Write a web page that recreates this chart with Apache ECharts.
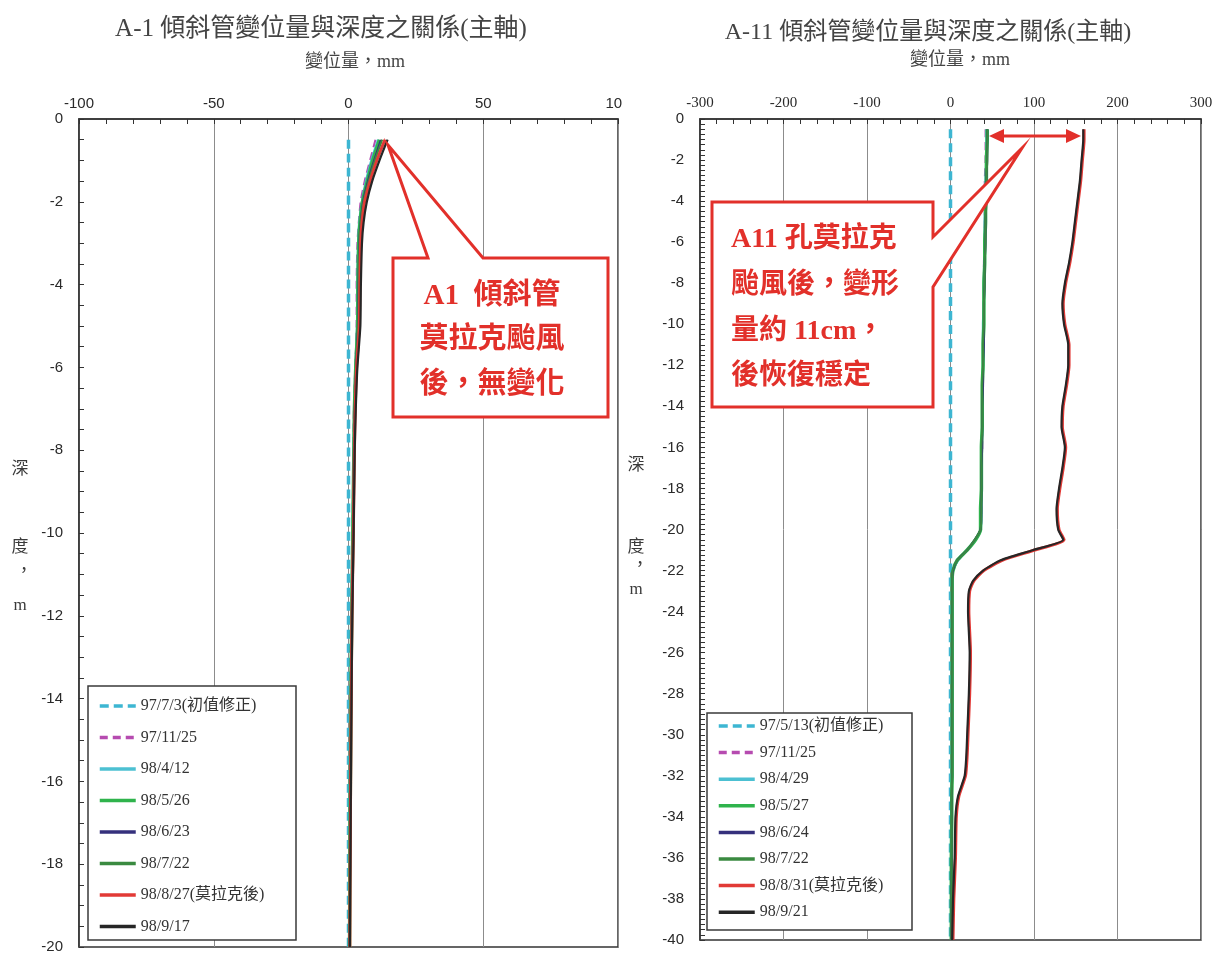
<!DOCTYPE html>
<html>
<head>
<meta charset="utf-8">
<script src="https://cdn.jsdelivr.net/npm/echarts@6/dist/echarts.min.js"></script>
<style>
html,body{margin:0;padding:0;background:#fff;}
#chart{width:1227px;height:957px;}
</style>
</head>
<body>
<div id="chart"></div>
<script>
// ---- A-1 inclinometer (depth in m, displacement in mm) ----
const a1Names = ['97/7/3(初值修正)', '97/11/25', '98/4/12', '98/5/26', '98/6/23', '98/7/22', '98/8/27(莫拉克後)', '98/9/17'];
const a1InitDepth = [-0.5, -20];
const a1InitDisp = [0, 0];
const a1Depth = [-0.5, -1, -1.5, -2, -2.5, -3, -4, -5, -6, -7, -8, -10, -12, -14, -16, -18, -20];
const a1_971125 = [10, 8, 6, 4.5, 3.8, 3.3, 3, 3, 2.5, 2, 1.8, 1.5, 1, 0.8, 0.6, 0.5, 0.3];
const a1_980412 = [11, 8.5, 6.5, 5, 4, 3.6, 3.3, 3.2, 2.6, 2.2, 1.9, 1.6, 1.1, 0.9, 0.7, 0.5, 0.4];
const a1_980526 = [11.5, 9, 7, 5.2, 4.3, 3.8, 3.5, 3.4, 2.7, 2.2, 2, 1.6, 1.2, 0.9, 0.7, 0.5, 0.4];
const a1_980623 = [12, 9.5, 7.2, 5.4, 4.5, 4, 3.7, 3.5, 2.8, 2.3, 2, 1.7, 1.2, 1, 0.7, 0.6, 0.4];
const a1_980722 = [12.5, 9.8, 7.5, 5.6, 4.6, 4.1, 3.8, 3.6, 2.9, 2.4, 2.1, 1.7, 1.3, 1, 0.8, 0.6, 0.4];
const a1_980827 = [13.5, 10.5, 8, 6, 5, 4.5, 4.2, 4, 3, 2.5, 2.2, 1.8, 1.3, 1, 0.8, 0.6, 0.5];
const a1_980917 = [14.5, 11.5, 8.8, 6.8, 5.6, 5, 4.6, 4.4, 3.3, 2.7, 2.3, 1.9, 1.4, 1.1, 0.9, 0.7, 0.5];

// ---- A-11 inclinometer ----
const a11Names = ['97/5/13(初值修正)', '97/11/25', '98/4/29', '98/5/27', '98/6/24', '98/7/22', '98/8/31(莫拉克後)', '98/9/21'];
const a11InitDepth = [-0.5, -40];
const a11InitDisp = [0, 0];
const a11Depth = [-0.5, -1, -2, -3, -4, -5, -6, -7, -8, -9,
  -10, -11, -12, -13, -14, -15, -16, -17, -18, -19, -20,
  -20.5, -21, -21.5, -22, -22.5, -23,
  -24, -25, -26, -28, -30, -31, -32, -33, -34, -36, -38, -40];
const a11_971125 = [42, 42, 42, 41, 41, 41, 41, 40, 40, 40,
  40, 39, 39, 39, 38, 38, 38, 37, 37, 37, 36,
  30, 20, 9, 3, 2, 1.5,
  1.5, 1.5, 1.5, 1.5, 1.5, 1.5, 1.5, 1, 1, 1, 0.5, 0.5];
const a11_980429 = [43, 43, 43, 42, 42, 41, 41, 41, 40, 40,
  39, 39, 39, 38, 38, 38, 37, 37, 37, 37, 36,
  30, 20, 9, 3, 2, 2,
  2, 2, 2, 2, 2, 2, 1.5, 1.5, 1.5, 1, 1, 1];
const a11_980527 = [44, 44, 43, 43, 42, 42, 41, 41, 40, 40,
  40, 39, 39, 38, 38, 38, 37, 37, 37, 36, 36,
  30, 20, 8, 3, 2, 2,
  2, 2, 2, 2, 2, 2, 2, 1.5, 1.5, 1, 1, 1];
const a11_980624 = [44, 44, 44, 43, 43, 42, 42, 41, 41, 40,
  40, 40, 39, 39, 38, 38, 38, 37, 37, 37, 36,
  29, 20, 8, 3, 2, 2,
  2, 2, 2, 2, 2, 2, 2, 1.5, 1.5, 1.5, 1, 1];
const a11_980722 = [44, 44, 44, 43, 43, 42, 42, 41, 41, 40,
  40, 39, 39, 38, 38, 38, 37, 37, 37, 37, 36,
  29, 20, 8, 2.5, 2, 2,
  2, 2, 2, 2, 2, 2, 2, 1.5, 1.5, 1.5, 1, 1];
const a11_980831 = [160, 160, 158, 156, 153, 150, 147, 143, 138, 135,
  137, 142, 142, 139, 135, 134, 138, 135, 131, 128, 130,
  136, 101, 62, 40, 28, 23,
  22, 23, 24, 23, 21, 20, 18, 10, 7, 6, 4, 3];
const a11_980921 = [159, 159, 157, 155, 152, 149, 146, 142, 137, 134,
  136, 141, 141, 138, 134, 133, 137, 134, 130, 127, 129,
  135, 99, 60, 39, 27, 22,
  21, 22, 23, 22, 20, 19, 17, 9, 6, 5, 3, 2];

// axis ticks
const a1XTicks = { min: -100, max: 100, interval: 50 };
const a1YTicks = { min: -20, max: 0, interval: 2 };
const a11XTicks = { min: -300, max: 300, interval: 100 };
const a11YTicks = { min: -40, max: 0, interval: 2 };

// line styles per survey date
const styles = [
  { color: '#3db6d2', width: 3.5, type: [9, 5] },
  { color: '#b64bb0', width: 2, type: [8, 5] },
  { color: '#4cc0d2', width: 2.5, type: 'solid' },
  { color: '#2fb34c', width: 3.5, type: 'solid' },
  { color: '#35307c', width: 2, type: 'solid' },
  { color: '#3a8a40', width: 2, type: 'solid' },
  { color: '#e23a36', width: 3, type: 'solid' },
  { color: '#262626', width: 2.2, type: 'solid' }
];

function pairs(xs, ys) { return xs.map((v, i) => [v, ys[i]]); }

function mkSeries(name, st, disp, depth, idx) {
  return {
    type: 'line', name: name, xAxisIndex: idx, yAxisIndex: idx,
    data: pairs(disp, depth), symbol: 'none', showSymbol: false,
    smooth: 0.2, silent: true, animation: false,
    lineStyle: { color: st.color, width: st.width, type: st.type },
    itemStyle: { color: st.color }
  };
}

const a1Values = [a1InitDisp, a1_971125, a1_980412, a1_980526, a1_980623, a1_980722, a1_980827, a1_980917];
const a11Values = [a11InitDisp, a11_971125, a11_980429, a11_980527, a11_980624, a11_980722, a11_980831, a11_980921];

const series = [];
a1Values.forEach((v, i) => series.push(mkSeries(a1Names[i], styles[i], v, i === 0 ? a1InitDepth : a1Depth, 0)));
a11Values.forEach((v, i) => series.push(mkSeries(a11Names[i], styles[i], v, i === 0 ? a11InitDepth : a11Depth, 1)));

const sansFont = "'Liberation Sans', Arial, sans-serif";
const serifFont = "'Liberation Serif', 'Noto Sans CJK TC', serif";
const cjkFont = "'Liberation Serif', 'Noto Sans CJK TC', sans-serif";
const red = '#e2302a';

function xAxisCfg(t, font, size, gi) {
  return {
    type: 'value', gridIndex: gi, position: 'top', min: t.min, max: t.max, interval: t.interval,
    axisLine: { show: true, onZero: false, lineStyle: { color: '#333', width: 1.5 } },
    axisTick: { show: true, inside: true, length: 5, lineStyle: { color: '#333' } },
    minorTick: { show: true, splitNumber: 5, length: 5, lineStyle: { color: '#333' } },
    splitLine: { show: true, lineStyle: { color: '#8c8c8c', width: 1 } },
    axisLabel: { show: true, margin: 8, fontFamily: font, fontSize: size, color: '#2a2a2a', showMinLabel: true, showMaxLabel: true }
  };
}
function yAxisCfg(t, minorSplit, gi) {
  return {
    type: 'value', gridIndex: gi, position: 'left', min: t.min, max: t.max, interval: t.interval,
    axisLine: { show: true, onZero: false, lineStyle: { color: '#333', width: 1.5 } },
    axisTick: { show: true, inside: true, length: 5, lineStyle: { color: '#333' } },
    minorTick: { show: true, splitNumber: minorSplit, length: 5, lineStyle: { color: '#333' } },
    splitLine: { show: false },
    axisLabel: { show: true, margin: 16, fontFamily: sansFont, fontSize: 15, color: '#2a2a2a' }
  };
}

function txt(text, x, y, size, opts) {
  opts = opts || {};
  return {
    type: 'text', x: x, y: y, z: opts.z || 60, silent: true,
    style: {
      text: text, fill: opts.fill || '#3a3a3a',
      fontSize: size, fontFamily: opts.family || cjkFont, fontWeight: opts.weight || 'normal',
      textAlign: opts.align || 'center', align: opts.align || 'center',
      textVerticalAlign: 'middle', verticalAlign: 'middle'
    }
  };
}

const graphic = [
  // chart titles and axis names
  txt('A-1 傾斜管變位量與深度之關係(主軸)', 321, 29, 25, { fill: '#444' }),
  txt('A-11 傾斜管變位量與深度之關係(主軸)', 928, 33, 24, { fill: '#444' }),
  txt('變位量，mm', 355, 62, 18, { fill: '#444' }),
  txt('變位量，mm', 960, 60, 18, { fill: '#444' }),
  txt('深', 20, 470, 17), txt('度', 20, 548, 17), txt('，', 24, 572, 17), txt('m', 20, 606, 17),
  txt('深', 636, 466, 17), txt('度', 636, 548, 17), txt('，', 640, 566, 17), txt('m', 636, 590, 17),
  // label edge trimmed by the panel boundary
  { type: 'rect', z: 70, silent: true, shape: { x: 622, y: 84, width: 14, height: 28 }, style: { fill: '#fff' } },
  // legend frames
  { type: 'rect', z: 3, silent: true, shape: { x: 88, y: 686, width: 208, height: 254 }, style: { fill: '#fff', stroke: '#3a3a3a', lineWidth: 1.5 } },
  { type: 'rect', z: 3, silent: true, shape: { x: 707, y: 713, width: 205, height: 217 }, style: { fill: '#fff', stroke: '#3a3a3a', lineWidth: 1.5 } },
  // A1 callout
  { type: 'polygon', z: 50, silent: true,
    shape: { points: [[393, 258], [428, 258], [388, 145], [483, 258], [608, 258], [608, 417], [393, 417]] },
    style: { fill: '#fff', stroke: red, lineWidth: 3 } },
  txt('A1  傾斜管', 492, 297, 29, { fill: red, weight: 'bold' }),
  txt('莫拉克颱風', 492, 341, 29, { fill: red, weight: 'bold' }),
  txt('後，無變化', 492, 386, 29, { fill: red, weight: 'bold' }),
  // A11 callout
  { type: 'polygon', z: 50, silent: true,
    shape: { points: [[712, 202], [933, 202], [933, 237], [1022, 148], [933, 287], [933, 407], [712, 407]] },
    style: { fill: '#fff', stroke: red, lineWidth: 3 } },
  txt('A11 孔莫拉克', 731, 240, 28, { fill: red, weight: 'bold', align: 'left' }),
  txt('颱風後，變形', 731, 286, 28, { fill: red, weight: 'bold', align: 'left' }),
  txt('量約 11cm，', 731, 332, 28, { fill: red, weight: 'bold', align: 'left' }),
  txt('後恢復穩定', 731, 377, 28, { fill: red, weight: 'bold', align: 'left' }),
  // double-headed arrow showing the shift
  { type: 'line', z: 55, silent: true, shape: { x1: 1000, y1: 136, x2: 1070, y2: 136 }, style: { stroke: red, lineWidth: 3 } },
  { type: 'polygon', z: 55, silent: true, shape: { points: [[989, 136], [1004, 129], [1004, 143]] }, style: { fill: red } },
  { type: 'polygon', z: 55, silent: true, shape: { points: [[1081, 136], [1066, 129], [1066, 143]] }, style: { fill: red } }
];

const legendText = { fontFamily: serifFont, fontSize: 16, color: '#333' };
const legendSymbol = { opacity: 0, borderWidth: 0 };
const legendLine = { width: 3.5 };

const option = {
  animation: false,
  backgroundColor: '#fff',
  grid: [
    { left: 79, top: 119, width: 539, height: 828, show: true, borderColor: '#333', borderWidth: 1.5, backgroundColor: 'transparent' },
    { left: 700, top: 119, width: 501, height: 821, show: true, borderColor: '#333', borderWidth: 1.5, backgroundColor: 'transparent' }
  ],
  xAxis: [xAxisCfg(a1XTicks, sansFont, 15, 0), xAxisCfg(a11XTicks, serifFont, 15, 1)],
  yAxis: [yAxisCfg(a1YTicks, 4, 0), yAxisCfg(a11YTicks, 8, 1)],
  legend: [
    { data: a1Names, orient: 'vertical', left: 98, top: 698, itemWidth: 36, itemHeight: 14, itemGap: 15.5, textGap: 2,
      textStyle: legendText, selectedMode: false, z: 10, padding: 0, itemStyle: legendSymbol, lineStyle: legendLine },
    { data: a11Names, orient: 'vertical', left: 717, top: 718, itemWidth: 36, itemHeight: 14, itemGap: 10.6, textGap: 2,
      textStyle: legendText, selectedMode: false, z: 10, padding: 0, itemStyle: legendSymbol, lineStyle: legendLine }
  ],
  graphic: graphic,
  series: series
};

const chart = echarts.init(document.getElementById('chart'), null, { renderer: 'canvas' });
chart.setOption(option);
</script>
</body>
</html>
